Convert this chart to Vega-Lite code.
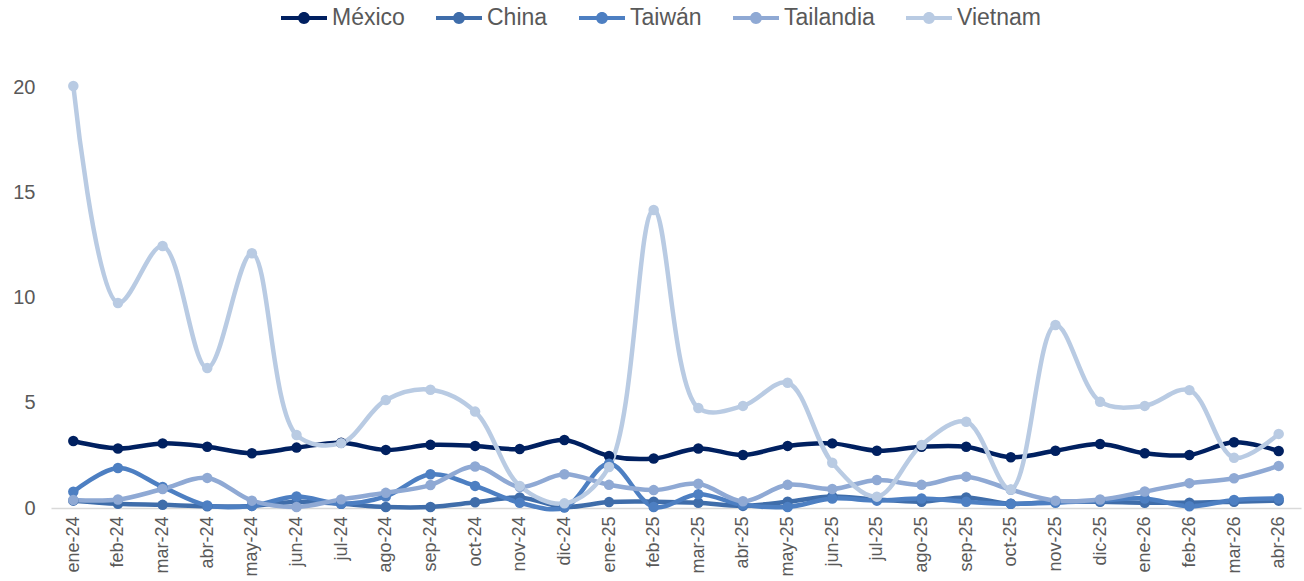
{
  "$schema": "https://vega.github.io/schema/vega-lite/v6.json",
  "width": 1250,
  "height": 421,
  "padding": {"left": 51, "top": 87, "right": 3, "bottom": 73},
  "autosize": {"type": "none"},
  "background": "white",
  "config": {
    "view": {"stroke": null},
    "font": "Liberation Sans"
  },
  "data": {
    "values": [
      {"mes": "ene-24", "pais": "México", "valor": 3.18},
      {"mes": "feb-24", "pais": "México", "valor": 2.83},
      {"mes": "mar-24", "pais": "México", "valor": 3.07},
      {"mes": "abr-24", "pais": "México", "valor": 2.91},
      {"mes": "may-24", "pais": "México", "valor": 2.6},
      {"mes": "jun-24", "pais": "México", "valor": 2.87},
      {"mes": "jul-24", "pais": "México", "valor": 3.1},
      {"mes": "ago-24", "pais": "México", "valor": 2.76},
      {"mes": "sep-24", "pais": "México", "valor": 3.0},
      {"mes": "oct-24", "pais": "México", "valor": 2.95},
      {"mes": "nov-24", "pais": "México", "valor": 2.8},
      {"mes": "dic-24", "pais": "México", "valor": 3.23},
      {"mes": "ene-25", "pais": "México", "valor": 2.47},
      {"mes": "feb-25", "pais": "México", "valor": 2.35},
      {"mes": "mar-25", "pais": "México", "valor": 2.83},
      {"mes": "abr-25", "pais": "México", "valor": 2.52},
      {"mes": "may-25", "pais": "México", "valor": 2.95},
      {"mes": "jun-25", "pais": "México", "valor": 3.07},
      {"mes": "jul-25", "pais": "México", "valor": 2.72},
      {"mes": "ago-25", "pais": "México", "valor": 2.91},
      {"mes": "sep-25", "pais": "México", "valor": 2.91},
      {"mes": "oct-25", "pais": "México", "valor": 2.41},
      {"mes": "nov-25", "pais": "México", "valor": 2.72},
      {"mes": "dic-25", "pais": "México", "valor": 3.04},
      {"mes": "ene-26", "pais": "México", "valor": 2.6},
      {"mes": "feb-26", "pais": "México", "valor": 2.52},
      {"mes": "mar-26", "pais": "México", "valor": 3.12},
      {"mes": "abr-26", "pais": "México", "valor": 2.71},

      {"mes": "ene-24", "pais": "China", "valor": 0.35},
      {"mes": "feb-24", "pais": "China", "valor": 0.2},
      {"mes": "mar-24", "pais": "China", "valor": 0.15},
      {"mes": "abr-24", "pais": "China", "valor": 0.08},
      {"mes": "may-24", "pais": "China", "valor": 0.1},
      {"mes": "jun-24", "pais": "China", "valor": 0.3},
      {"mes": "jul-24", "pais": "China", "valor": 0.2},
      {"mes": "ago-24", "pais": "China", "valor": 0.05},
      {"mes": "sep-24", "pais": "China", "valor": 0.05},
      {"mes": "oct-24", "pais": "China", "valor": 0.27},
      {"mes": "nov-24", "pais": "China", "valor": 0.5},
      {"mes": "dic-24", "pais": "China", "valor": 0.05},
      {"mes": "ene-25", "pais": "China", "valor": 0.28},
      {"mes": "feb-25", "pais": "China", "valor": 0.3},
      {"mes": "mar-25", "pais": "China", "valor": 0.25},
      {"mes": "abr-25", "pais": "China", "valor": 0.1},
      {"mes": "may-25", "pais": "China", "valor": 0.3},
      {"mes": "jun-25", "pais": "China", "valor": 0.55},
      {"mes": "jul-25", "pais": "China", "valor": 0.4},
      {"mes": "ago-25", "pais": "China", "valor": 0.3},
      {"mes": "sep-25", "pais": "China", "valor": 0.5},
      {"mes": "oct-25", "pais": "China", "valor": 0.2},
      {"mes": "nov-25", "pais": "China", "valor": 0.3},
      {"mes": "dic-25", "pais": "China", "valor": 0.3},
      {"mes": "ene-26", "pais": "China", "valor": 0.25},
      {"mes": "feb-26", "pais": "China", "valor": 0.25},
      {"mes": "mar-26", "pais": "China", "valor": 0.3},
      {"mes": "abr-26", "pais": "China", "valor": 0.35},

      {"mes": "ene-24", "pais": "Taiwán", "valor": 0.77},
      {"mes": "feb-24", "pais": "Taiwán", "valor": 1.9},
      {"mes": "mar-24", "pais": "Taiwán", "valor": 1.0},
      {"mes": "abr-24", "pais": "Taiwán", "valor": 0.12},
      {"mes": "may-24", "pais": "Taiwán", "valor": 0.1},
      {"mes": "jun-24", "pais": "Taiwán", "valor": 0.55},
      {"mes": "jul-24", "pais": "Taiwán", "valor": 0.2},
      {"mes": "ago-24", "pais": "Taiwán", "valor": 0.55},
      {"mes": "sep-24", "pais": "Taiwán", "valor": 1.6},
      {"mes": "oct-24", "pais": "Taiwán", "valor": 1.05},
      {"mes": "nov-24", "pais": "Taiwán", "valor": 0.25},
      {"mes": "dic-24", "pais": "Taiwán", "valor": 0.02},
      {"mes": "ene-25", "pais": "Taiwán", "valor": 2.1},
      {"mes": "feb-25", "pais": "Taiwán", "valor": 0.05},
      {"mes": "mar-25", "pais": "Taiwán", "valor": 0.65},
      {"mes": "abr-25", "pais": "Taiwán", "valor": 0.15},
      {"mes": "may-25", "pais": "Taiwán", "valor": 0.05},
      {"mes": "jun-25", "pais": "Taiwán", "valor": 0.45},
      {"mes": "jul-25", "pais": "Taiwán", "valor": 0.35},
      {"mes": "ago-25", "pais": "Taiwán", "valor": 0.45},
      {"mes": "sep-25", "pais": "Taiwán", "valor": 0.3},
      {"mes": "oct-25", "pais": "Taiwán", "valor": 0.2},
      {"mes": "nov-25", "pais": "Taiwán", "valor": 0.25},
      {"mes": "dic-25", "pais": "Taiwán", "valor": 0.35},
      {"mes": "ene-26", "pais": "Taiwán", "valor": 0.45},
      {"mes": "feb-26", "pais": "Taiwán", "valor": 0.08},
      {"mes": "mar-26", "pais": "Taiwán", "valor": 0.38},
      {"mes": "abr-26", "pais": "Taiwán", "valor": 0.45},

      {"mes": "ene-24", "pais": "Tailandia", "valor": 0.38},
      {"mes": "feb-24", "pais": "Tailandia", "valor": 0.4},
      {"mes": "mar-24", "pais": "Tailandia", "valor": 0.9},
      {"mes": "abr-24", "pais": "Tailandia", "valor": 1.43},
      {"mes": "may-24", "pais": "Tailandia", "valor": 0.35},
      {"mes": "jun-24", "pais": "Tailandia", "valor": 0.05},
      {"mes": "jul-24", "pais": "Tailandia", "valor": 0.41},
      {"mes": "ago-24", "pais": "Tailandia", "valor": 0.72},
      {"mes": "sep-24", "pais": "Tailandia", "valor": 1.09},
      {"mes": "oct-24", "pais": "Tailandia", "valor": 1.97},
      {"mes": "nov-24", "pais": "Tailandia", "valor": 1.0},
      {"mes": "dic-24", "pais": "Tailandia", "valor": 1.6},
      {"mes": "ene-25", "pais": "Tailandia", "valor": 1.1},
      {"mes": "feb-25", "pais": "Tailandia", "valor": 0.85},
      {"mes": "mar-25", "pais": "Tailandia", "valor": 1.15},
      {"mes": "abr-25", "pais": "Tailandia", "valor": 0.32},
      {"mes": "may-25", "pais": "Tailandia", "valor": 1.1},
      {"mes": "jun-25", "pais": "Tailandia", "valor": 0.9},
      {"mes": "jul-25", "pais": "Tailandia", "valor": 1.33},
      {"mes": "ago-25", "pais": "Tailandia", "valor": 1.1},
      {"mes": "sep-25", "pais": "Tailandia", "valor": 1.49},
      {"mes": "oct-25", "pais": "Tailandia", "valor": 0.87},
      {"mes": "nov-25", "pais": "Tailandia", "valor": 0.35},
      {"mes": "dic-25", "pais": "Tailandia", "valor": 0.4},
      {"mes": "ene-26", "pais": "Tailandia", "valor": 0.78},
      {"mes": "feb-26", "pais": "Tailandia", "valor": 1.18},
      {"mes": "mar-26", "pais": "Tailandia", "valor": 1.41},
      {"mes": "abr-26", "pais": "Tailandia", "valor": 2.0},

      {"mes": "ene-24", "pais": "Vietnam", "valor": 20.05},
      {"mes": "feb-24", "pais": "Vietnam", "valor": 9.74},
      {"mes": "mar-24", "pais": "Vietnam", "valor": 12.45},
      {"mes": "abr-24", "pais": "Vietnam", "valor": 6.65},
      {"mes": "may-24", "pais": "Vietnam", "valor": 12.1},
      {"mes": "jun-24", "pais": "Vietnam", "valor": 3.47},
      {"mes": "jul-24", "pais": "Vietnam", "valor": 3.08},
      {"mes": "ago-24", "pais": "Vietnam", "valor": 5.13},
      {"mes": "sep-24", "pais": "Vietnam", "valor": 5.62},
      {"mes": "oct-24", "pais": "Vietnam", "valor": 4.58},
      {"mes": "nov-24", "pais": "Vietnam", "valor": 1.05},
      {"mes": "dic-24", "pais": "Vietnam", "valor": 0.22},
      {"mes": "ene-25", "pais": "Vietnam", "valor": 1.95},
      {"mes": "feb-25", "pais": "Vietnam", "valor": 14.16},
      {"mes": "mar-25", "pais": "Vietnam", "valor": 4.75},
      {"mes": "abr-25", "pais": "Vietnam", "valor": 4.85},
      {"mes": "may-25", "pais": "Vietnam", "valor": 5.95},
      {"mes": "jun-25", "pais": "Vietnam", "valor": 2.15},
      {"mes": "jul-25", "pais": "Vietnam", "valor": 0.54},
      {"mes": "ago-25", "pais": "Vietnam", "valor": 2.99},
      {"mes": "sep-25", "pais": "Vietnam", "valor": 4.1},
      {"mes": "oct-25", "pais": "Vietnam", "valor": 0.88},
      {"mes": "nov-25", "pais": "Vietnam", "valor": 8.69},
      {"mes": "dic-25", "pais": "Vietnam", "valor": 5.05},
      {"mes": "ene-26", "pais": "Vietnam", "valor": 4.85},
      {"mes": "feb-26", "pais": "Vietnam", "valor": 5.6},
      {"mes": "mar-26", "pais": "Vietnam", "valor": 2.39},
      {"mes": "abr-26", "pais": "Vietnam", "valor": 3.52}
    ]
  },
  "encoding": {
    "x": {
      "field": "mes",
      "type": "ordinal",
      "sort": null,
      "scale": {"type": "point", "padding": 0.5},
      "axis": {
        "title": null,
        "labelAngle": -90,
        "labelFontSize": 18,
        "labelColor": "#595959",
        "labelPadding": 8,
        "ticks": false,
        "domain": true,
        "domainColor": "#D9D9D9",
        "domainWidth": 1.5,
        "grid": false
      }
    },
    "y": {
      "field": "valor",
      "type": "quantitative",
      "scale": {"domain": [0, 20], "nice": false, "zero": true},
      "axis": {
        "title": null,
        "values": [0, 5, 10, 15, 20],
        "labelFontSize": 20,
        "labelColor": "#595959",
        "labelPadding": 16,
        "ticks": false,
        "domain": false,
        "grid": false
      }
    },
    "color": {
      "field": "pais",
      "type": "nominal",
      "sort": ["México", "China", "Taiwán", "Tailandia", "Vietnam"],
      "scale": {
        "domain": ["México", "China", "Taiwán", "Tailandia", "Vietnam"],
        "range": ["#002060", "#3F6DAA", "#4D7FC2", "#8FA9D4", "#B9CBE3"]
      },
      "legend": {
        "title": null,
        "orient": "none",
        "legendX": 230,
        "legendY": -92,
        "direction": "horizontal",
        "symbolType": "M-1,-0.09L1,-0.09L1,0.09L-1,0.09Z M-0.26,0 A0.26,0.26 0 1,1 0.26,0 A0.26,0.26 0 1,1 -0.26,0Z",
        "symbolSize": 2116,
        "symbolStrokeWidth": 0,
        "labelFontSize": 23,
        "labelColor": "#595959",
        "labelOffset": 5,
        "columnPadding": 31,
        "encode": {
          "symbols": {
            "update": {
              "fill": {"scale": "color", "field": "value"},
              "fillOpacity": {"value": 1},
              "strokeWidth": {"value": 0}
            }
          }
        }
      }
    }
  },
  "layer": [
    {
      "mark": {"type": "line", "interpolate": "catmull-rom", "strokeWidth": 4.5, "clip": false}
    },
    {
      "mark": {"type": "point", "filled": true, "size": 110, "opacity": 1, "clip": false}
    }
  ]
}
